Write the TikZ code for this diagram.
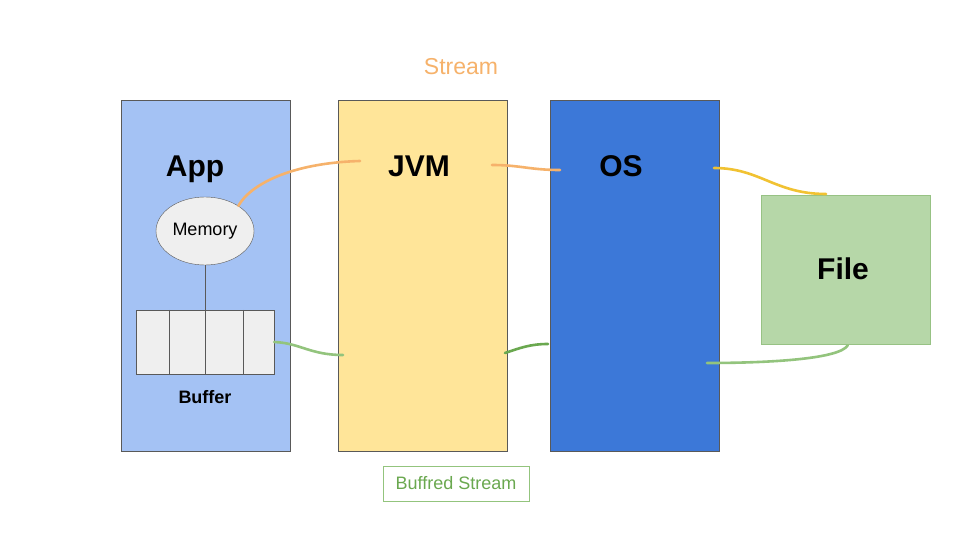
\documentclass[tikz,border=0pt]{standalone}
\usepackage{fontspec}
\setmainfont{Liberation Sans}
\usepackage{xcolor}
\usetikzlibrary{shapes.geometric}
\definecolor{appblue}{HTML}{A4C2F4}
\definecolor{jvmyellow}{HTML}{FFE599}
\definecolor{osblue}{HTML}{3C78D8}
\definecolor{filegreen}{HTML}{B6D7A8}
\definecolor{memgray}{HTML}{EFEFEF}
\definecolor{edgegray}{HTML}{595959}
\definecolor{streamorange}{HTML}{F6B26B}
\definecolor{linkyellow}{HTML}{F1C232}
\definecolor{lightgreen}{HTML}{93C47D}
\definecolor{darkgreen}{HTML}{6AA84F}

\begin{document}
\begin{tikzpicture}[x=1pt, y=-1pt,
  layer/.style={draw=edgegray, line width=0.7pt, minimum width=169pt, minimum height=351pt, inner sep=0pt},
  title/.style={font=\fontsize{30}{36}\selectfont\bfseries},
  link/.style={line width=2.6pt, line cap=round}]
  \useasboundingbox[fill=white] (0,0) rectangle (960,540);
  % Layers
  \node[layer, fill=appblue] (app) at (205.5,275.5) {};
  \node[layer, fill=jvmyellow] (jvm) at (422.5,275.5) {};
  \node[layer, fill=osblue] (os) at (634.5,275.5) {};
  \node[layer, fill=filegreen, draw=darkgreen!70, minimum height=149pt] (file) at (845.5,269.5) {};
  % Titles
  \node[title] (applabel) at (195,169) {App};
  \node[title] (jvmlabel) at (419,166) {JVM};
  \node[title] (oslabel) at (621,166) {OS};
  \node[title] (filelabel) at (843,269) {File};
  % Memory and buffer
  \node[ellipse, draw=edgegray, fill=memgray, minimum width=98pt, minimum height=68pt, inner sep=0pt,
    font=\fontsize{18}{20}\selectfont] (memory) at (205,231) {\raisebox{3pt}{Memory}};
  \node[draw=edgegray, fill=memgray, minimum width=138pt, minimum height=64pt, inner sep=0pt] (buffer) at (205,342) {};
  \foreach \x in {169,205,243}
    \draw[edgegray] (\x,0 |- buffer.north) -- (\x,0 |- buffer.south);
  \draw[edgegray] (memory.south) -- (buffer.north);
  \node[font=\fontsize{18}{20}\selectfont\bfseries] (bufferlabel) at (205,397) {Buffer};
  % Stream labels
  \node[text=streamorange, font=\fontsize{23}{26}\selectfont] (stream) at (461,67) {Stream};
  \node[draw=lightgreen, text=darkgreen, minimum width=146pt, minimum height=35pt, inner sep=0pt,
    font=\fontsize{18}{20}\selectfont] (buffred) at (456,483.5) {Buffred Stream};
  % Link ends
  \coordinate (jvmin) at (360,161);
  \coordinate (jvmout) at (492,165);
  \coordinate (osin) at (560,170);
  \coordinate (osout) at (714,168);
  \coordinate (filein) at (826,194);
  \coordinate (jvmlow) at (343,355);
  \coordinate (jvmback) at (505,353);
  \coordinate (osback) at (548,344);
  \coordinate (fileout) at (848,345);
  \coordinate (osreturn) at (707,363);
  % Stream path
  \draw[link, streamorange] (memory.37) .. controls (250,185) and (290,163) .. (jvmin);
  \draw[link, streamorange] (jvmout) .. controls (520,165) and (530,170) .. (osin);
  \draw[link, linkyellow] (osout) .. controls (760,168) and (775,194) .. (filein);
  % Buffered path
  \draw[link, lightgreen] (buffer.east) .. controls (300,343) and (310,355) .. (jvmlow);
  \draw[link, darkgreen] (jvmback) .. controls (520,348) and (530,344) .. (osback);
  \draw[link, lightgreen] (fileout) .. controls (840,360) and (760,363) .. (osreturn);
\end{tikzpicture}
\end{document}
